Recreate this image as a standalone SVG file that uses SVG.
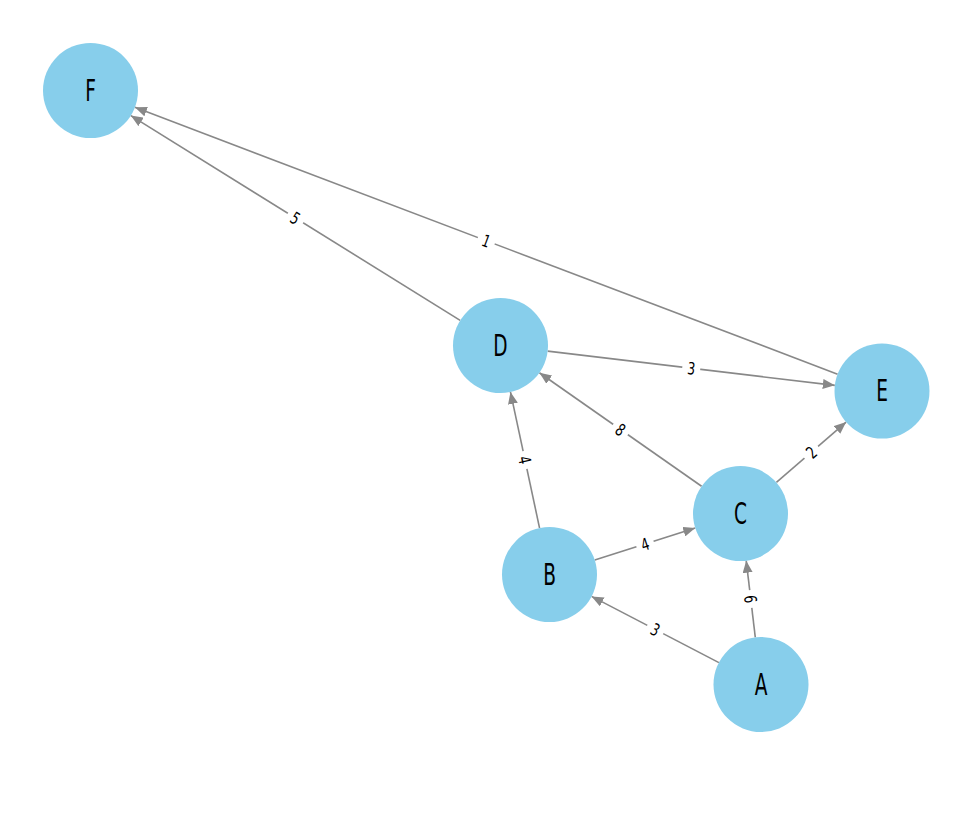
<svg xmlns="http://www.w3.org/2000/svg" width="979" height="832" viewBox="0 0 979 832">
<style>
.edge{stroke:#888888;stroke-width:1.6;fill:none;marker-end:url(#arr)}
.node circle{fill:#87CEEB}
.node text{font-family:"DejaVu Sans",sans-serif;font-size:30px;fill:#000;text-anchor:middle;dominant-baseline:central}
.lbl rect{fill:#fff}
.lbl text{font-family:"DejaVu Sans",sans-serif;font-size:17px;fill:#000;text-anchor:middle;dominant-baseline:central}
</style>
<defs>
<marker id="arr" viewBox="0 0 12 10" refX="12" refY="5" markerWidth="12" markerHeight="10" markerUnits="userSpaceOnUse" orient="auto">
<path d="M0,0 L12,5 L0,10 Z" fill="#888888"/>
</marker>
</defs>
<rect width="979" height="832" fill="#fff"/>
<g id="connectors">
<line class="edge" x1="718.9" y1="662.6" x2="591.6" y2="596.4"/>
<line class="edge" x1="755.3" y1="637.3" x2="746.2" y2="560.7"/>
<line class="edge" x1="594.75" y1="560.05" x2="695.25" y2="527.95"/>
<line class="edge" x1="539.56" y1="528.05" x2="510.44" y2="391.95"/>
<line class="edge" x1="701.59" y1="486.26" x2="539.41" y2="372.74"/>
<line class="edge" x1="776.41" y1="482.41" x2="846.09" y2="422.09"/>
<line class="edge" x1="547.67" y1="351.13" x2="834.83" y2="385.37"/>
<line class="edge" x1="460.16" y1="320.41" x2="130.84" y2="115.59"/>
<line class="edge" x1="837.59" y1="374.14" x2="134.91" y2="107.36"/>
<g class="lbl" transform="translate(655.25,629.5) rotate(27.5)"><rect x="-9" y="-10" width="18" height="20"/><text transform="scale(0.72,1)">3</text></g>
<g class="lbl" transform="translate(750.75,599) rotate(83.2)"><rect x="-9" y="-10" width="18" height="20"/><text transform="scale(0.72,1)">6</text></g>
<g class="lbl" transform="translate(645,544) rotate(-17.7)"><rect x="-9" y="-10" width="18" height="20"/><text transform="scale(0.72,1)">4</text></g>
<g class="lbl" transform="translate(525,460) rotate(77.9)"><rect x="-9" y="-10" width="18" height="20"/><text transform="scale(0.72,1)">4</text></g>
<g class="lbl" transform="translate(620.5,429.5) rotate(35)"><rect x="-9" y="-10" width="18" height="20"/><text transform="scale(0.72,1)">8</text></g>
<g class="lbl" transform="translate(811.25,452.25) rotate(-40.9)"><rect x="-9" y="-10" width="18" height="20"/><text transform="scale(0.72,1)">2</text></g>
<g class="lbl" transform="translate(691.25,368.25) rotate(6.8)"><rect x="-9" y="-10" width="18" height="20"/><text transform="scale(0.72,1)">3</text></g>
<g class="lbl" transform="translate(295.5,218) rotate(31.9)"><rect x="-9" y="-10" width="18" height="20"/><text transform="scale(0.72,1)">5</text></g>
<g class="lbl" transform="translate(486.25,240.75) rotate(20.8)"><rect x="-9" y="-10" width="18" height="20"/><text transform="scale(0.72,1)">1</text></g>
</g>
<g id="node-A" class="node"><circle cx="761" cy="684.5" r="47.5"/><text transform="translate(761,684.5) scale(0.62,1)">A</text></g>
<g id="node-B" class="node"><circle cx="549.5" cy="574.5" r="47.5"/><text transform="translate(549.5,574.5) scale(0.62,1)">B</text></g>
<g id="node-C" class="node"><circle cx="740.5" cy="513.5" r="47.5"/><text transform="translate(740.5,513.5) scale(0.62,1)">C</text></g>
<g id="node-D" class="node"><circle cx="500.5" cy="345.5" r="47.5"/><text transform="translate(500.5,345.5) scale(0.62,1)">D</text></g>
<g id="node-E" class="node"><circle cx="882" cy="391" r="47.5"/><text transform="translate(882,391) scale(0.62,1)">E</text></g>
<g id="node-F" class="node"><circle cx="90.5" cy="90.5" r="47.5"/><text transform="translate(90.5,90.5) scale(0.62,1)">F</text></g>
</svg>
